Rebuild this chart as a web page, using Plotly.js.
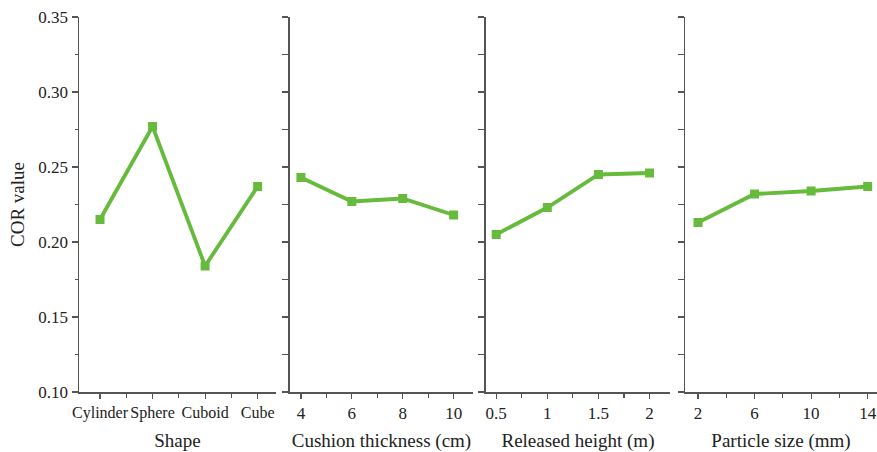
<!DOCTYPE html>
<html><head><meta charset="utf-8">
<script src="https://cdn.plot.ly/plotly-3.0.1.min.js"></script>
<style>body{margin:0;background:#fff}</style></head>
<body><div id="chart" style="width:877px;height:452px"></div>
<script>
const shapeLabels = ['Cylinder', 'Sphere', 'Cuboid', 'Cube'];
const shapeCOR = [0.215, 0.277, 0.184, 0.237];
const cushionThickness = [4, 6, 8, 10];
const cushionCOR = [0.243, 0.227, 0.229, 0.218];
const releasedHeight = [0.5, 1, 1.5, 2];
const heightCOR = [0.205, 0.223, 0.245, 0.246];
const particleSize = [2, 6, 10, 14];
const particleCOR = [0.213, 0.232, 0.234, 0.237];
const yTickVals = [0.10, 0.15, 0.20, 0.25, 0.30, 0.35];
const yTickText = ['0.10', '0.15', '0.20', '0.25', '0.30', '0.35'];
const xTitles = ['Shape', 'Cushion thickness (cm)', 'Released height (m)', 'Particle size (mm)'];
const yTitle = 'COR value';

const green = '#66bb3c';
const axisCol = '#555555';
const fontFam = 'Liberation Serif';

const shapeIdx = shapeLabels.map((_, i) => i);
const traces = [
  {x: shapeIdx, y: shapeCOR, xaxis: 'x', yaxis: 'y'},
  {x: cushionThickness, y: cushionCOR, xaxis: 'x2', yaxis: 'y2'},
  {x: releasedHeight, y: heightCOR, xaxis: 'x3', yaxis: 'y3'},
  {x: particleSize, y: particleCOR, xaxis: 'x4', yaxis: 'y4'}
].map(t => Object.assign(t, {type: 'scatter', mode: 'lines+markers',
  line: {color: green, width: 3.8}, marker: {symbol: 'square', size: 9, color: green},
  showlegend: false, cliponaxis: false}));

const tickFont = () => ({family: fontFam, size: 17, color: '#222'});
const titleFont = () => ({family: fontFam, size: 19, color: '#222'});

function minorX(t0, dt) {
  return {tickmode: 'linear', tick0: t0, dtick: dt, ticks: 'outside', ticklen: 4, tickwidth: 1.2, tickcolor: axisCol, showgrid: false};
}
function xAxis(domain, range, title, extra) {
  return Object.assign({
    domain: domain, range: range, showline: true, linecolor: axisCol, linewidth: 1.5,
    ticks: 'outside', ticklen: 5, tickwidth: 1.2, tickcolor: axisCol, tickangle: 0,
    showgrid: false, zeroline: false, tickfont: tickFont(),
    title: {text: title, font: titleFont(), standoff: 13}
  }, extra);
}
function yAxis(anchor, labels) {
  const ax = {
    range: [0.10, 0.35], anchor: anchor, showline: true, linecolor: axisCol, linewidth: 1.5,
    ticks: 'outside', tickwidth: 1.2, tickcolor: axisCol, showgrid: false, zeroline: false,
    tickfont: tickFont()
  };
  if (labels) {
    Object.assign(ax, {tickmode: 'array', tickvals: yTickVals, ticktext: yTickText, ticklen: 6,
      minor: {tickmode: 'linear', dtick: 0.025, tick0: 0.1, ticks: 'outside', ticklen: 3, tickwidth: 1.2, tickcolor: axisCol, showgrid: false},
      title: {text: yTitle, font: titleFont(), standoff: 8}});
  } else {
    Object.assign(ax, {tickmode: 'linear', tick0: 0.1, dtick: 0.025, ticklen: 6, showticklabels: false});
  }
  return ax;
}

const layout = {
  width: 877, height: 452,
  margin: {l: 79, r: 0, t: 17, b: 60},
  paper_bgcolor: '#fff', plot_bgcolor: '#fff',
  font: {family: fontFam, size: 17, color: '#222'},
  xaxis: xAxis([0, 0.2469], [-0.4, 3.35], xTitles[0], {tickmode: 'array', tickvals: shapeIdx, ticktext: shapeLabels,
    minor: minorX(0.5, 1), tickfont: {family: fontFam, size: 16, color: '#222'}}),
  xaxis2: xAxis([0.2644, 0.4937], [3.57, 10.76], xTitles[1], {anchor: 'y2', tickmode: 'linear', tick0: 4, dtick: 2,
    minor: minorX(5, 2)}),
  xaxis3: xAxis([0.5100, 0.7406], [0.4, 2.2], xTitles[2], {anchor: 'y3', tickmode: 'linear', tick0: 0.5, dtick: 0.5,
    minor: minorX(0.75, 0.5)}),
  xaxis4: xAxis([0.7594, 1], [1.08, 14.66], xTitles[3], {anchor: 'y4', tickmode: 'linear', tick0: 2, dtick: 4,
    minor: minorX(4, 4)}),
  yaxis: yAxis('x', true),
  yaxis2: yAxis('x2', false),
  yaxis3: yAxis('x3', false),
  yaxis4: yAxis('x4', false)
};

Plotly.newPlot('chart', traces, layout, {displayModeBar: false, staticPlot: true});
</script>
</body></html>
